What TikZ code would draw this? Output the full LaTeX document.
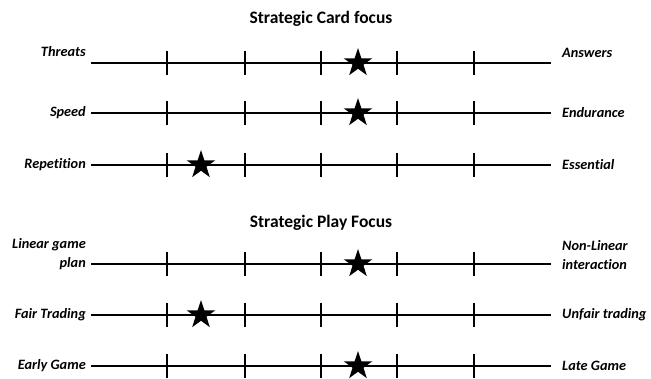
\documentclass[tikz,border=0pt]{standalone}
\usepackage{fontspec}
\setmainfont{Carlito}[Ligatures=NoCommon]
\usepackage{tikz}
\usetikzlibrary{shapes.geometric, positioning, calc}

\begin{document}
\begin{tikzpicture}[x=1pt, y=-1pt]
        \tikzstyle{pole} = [font=\fontsize{14.3}{19}\selectfont\bfseries\itshape, inner sep=0pt]
        \tikzstyle{heading} = [font=\fontsize{17.5}{20}\selectfont\bfseries, inner sep=0pt]
        \tikzstyle{slider} = [draw, line width=2.2pt]
        \tikzstyle{notch} = [draw, line width=1.1pt]
        \tikzstyle{choice} = [star, star points=5, star point ratio=2.6, fill=black, minimum size=30pt, inner sep=0pt]

        \useasboundingbox (0,0) rectangle (651,379);

        \node [heading] (cardtitle) at (321,19) {Strategic Card focus};
        \node [heading] (playtitle) at (321,223) {Strategic Play Focus};

        % end points of the six sliders
        \coordinate (l1) at (91,63);  \coordinate (r1) at (551,63);
        \coordinate (l2) at (91,113); \coordinate (r2) at (551,113);
        \coordinate (l3) at (91,165); \coordinate (r3) at (551,165);
        \coordinate (l4) at (91,264); \coordinate (r4) at (551,264);
        \coordinate (l5) at (91,315); \coordinate (r5) at (551,315);
        \coordinate (l6) at (91,366); \coordinate (r6) at (551,366);

        \node [pole, anchor=east] (threats) at (86,52) {Threats};
        \node [pole, anchor=west] (answers) at (562,53) {Answers};
        \node [pole, anchor=east] (speed) at (86,113) {Speed};
        \node [pole, anchor=west] (endurance) at (562,113) {Endurance};
        \node [pole, anchor=east] (repetition) at (86,165) {Repetition};
        \node [pole, anchor=west] (essential) at (562,165) {Essential};
        \node [pole, anchor=east, align=right] (linear) at (86,254.5) {Linear game\\plan};
        \node [pole, anchor=west, align=left] (nonlinear) at (562,255) {Non-Linear\\interaction};
        \node [pole, anchor=east] (fair) at (86,315) {Fair Trading};
        \node [pole, anchor=west] (unfair) at (562,315) {Unfair trading};
        \node [pole, anchor=east] (early) at (86,366) {Early Game};
        \node [pole, anchor=west] (late) at (562,366) {Late Game};

        \foreach \i in {1,...,6} {
            \path [slider] (l\i) -- (r\i);
            \foreach \x in {167,245,321,397,474}
                \path [notch] ($(l\i)+(\x-91,-12)$) -- ($(l\i)+(\x-91,12)$);
        }

        \node [choice] (s1) at (358,63) {};
        \node [choice] (s2) at (358,113) {};
        \node [choice] (s3) at (201,165) {};
        \node [choice] (s4) at (358,264) {};
        \node [choice] (s5) at (201,315) {};
        \node [choice] (s6) at (358,366) {};
    \end{tikzpicture}
\end{document}
